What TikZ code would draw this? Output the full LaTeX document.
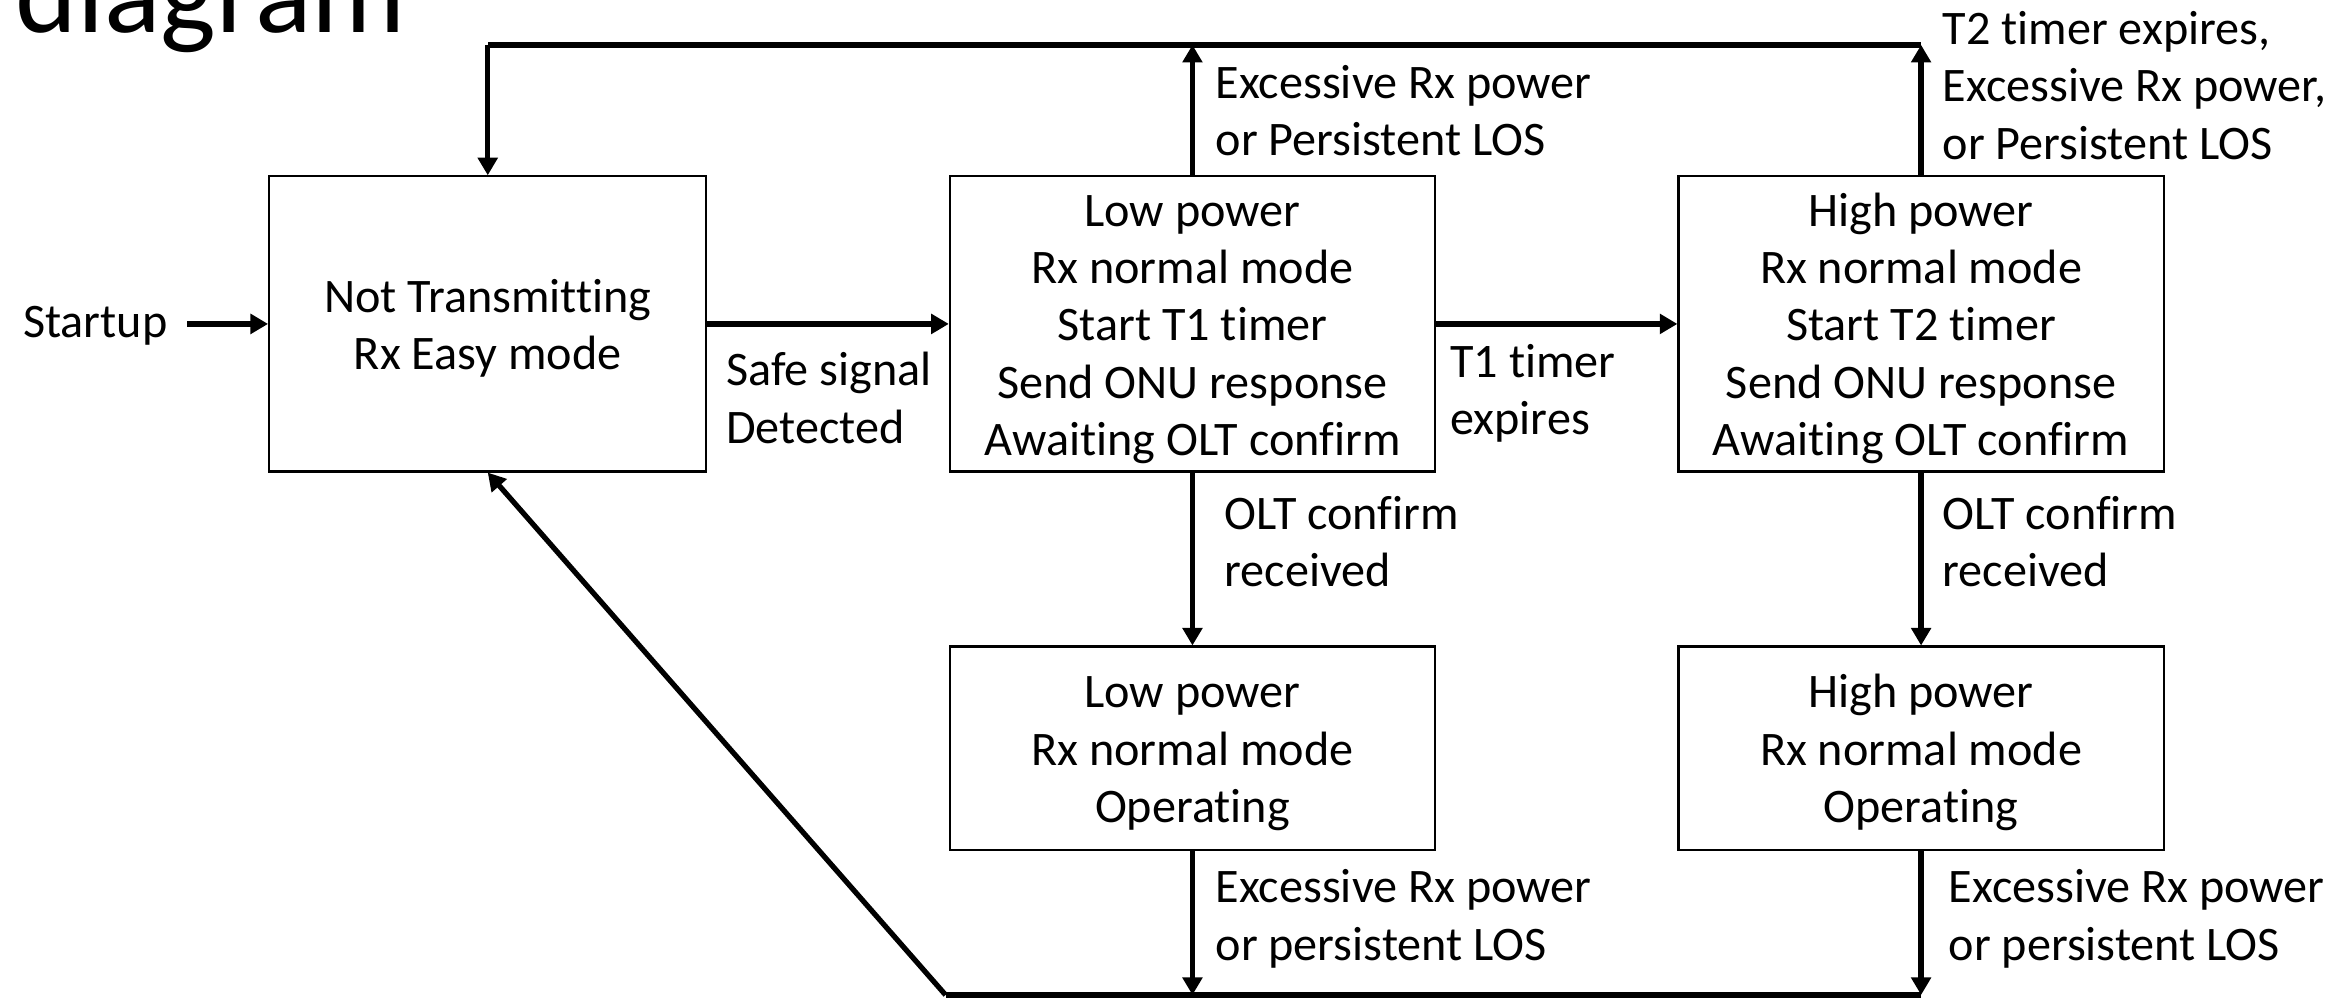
\documentclass[tikz,border=0pt]{standalone}
\usepackage{fontspec}
\setmainfont[Ligatures=CommonOff]{Carlito}
\usepackage{tikz}
\usetikzlibrary{arrows.meta, positioning}

% a little extra room above the first line of a state
\newcommand{\boxlift}{\rule{0pt}{12pt}}

\begin{document}
\begin{tikzpicture}[x=0.01496cm, y=-0.01496cm,
    font=\fontsize{13.7}{16.3}\selectfont,
    statebox/.style={draw, line width=0.6pt, align=center, inner sep=0pt},
    wide/.style={statebox, minimum width=4.85cm},
    cond/.style={align=left, anchor=west, inner sep=0pt},
    arr/.style={line width=1.5pt, -{Triangle[length=5pt, width=5.5pt]}},
    loopline/.style={line width=1.7pt}]
    \useasboundingbox (0,0) rectangle (1568,671);
    \clip (0,0) rectangle (1568,671);

    % Title (cut off at the top)
    \node[anchor=base west, inner sep=0pt, font=\fontsize{33.5}{40}\selectfont] (title) at (10,22) {diagram};

    % States
    \node[statebox, minimum width=4.37cm, minimum height=2.95cm] (idle) at (326,216.5) {\boxlift Not Transmitting\\Rx Easy mode};
    \node[wide, minimum height=2.95cm] (lowwait) at (797,216.5) {\boxlift Low power\\Rx normal mode\\Start T1 timer\\Send ONU response\\Awaiting OLT confirm};
    \node[wide, minimum height=2.95cm] (highwait) at (1284,216.5) {\boxlift High power\\Rx normal mode\\Start T2 timer\\Send ONU response\\Awaiting OLT confirm};
    \node[wide, minimum height=2.03cm] (lowop) at (797,500) {\boxlift Low power\\Rx normal mode\\Operating};
    \node[wide, minimum height=2.03cm] (highop) at (1284,500) {\boxlift High power\\Rx normal mode\\Operating};

    % Startup
    \node[anchor=west, inner sep=0pt] (startup) at (15,218) {Startup};
    \coordinate (startend) at (125,216.5);
    \draw[arr] (startend) -- (idle);

    % Forward transitions
    \draw[arr] (idle) -- (lowwait);
    \node[cond] (safe) at (485,266) {Safe signal\\Detected};
    \draw[arr] (lowwait) -- (highwait);
    \node[cond] (tone) at (969,263) {T1 timer\\expires};
    \draw[arr] (lowwait) -- (lowop);
    \node[cond] (lowconf) at (818,362) {OLT confirm\\received};
    \draw[arr] (highwait) -- (highop);
    \node[cond] (highconf) at (1298,362) {OLT confirm\\received};

    % Back to idle over the top
    \coordinate (top) at (326,30);
    \draw[arr] (lowwait.north) -- (lowwait.north |- top);
    \draw[arr] (highwait.north) -- (highwait.north |- top);
    \draw[loopline] (highwait.north |- top) -- (top);
    \draw[arr] (top) -- (idle.north);
    \node[cond] (lowfail) at (812,74) {Excessive Rx power\\or Persistent LOS};
    \node[cond] (highfail) at (1298,57) {T2 timer expires,\\Excessive Rx power,\\or Persistent LOS};

    % Back to idle from operating
    \coordinate (bottom) at (632,665);
    \draw[arr] (lowop.south) -- (lowop.south |- bottom);
    \draw[arr] (highop.south) -- (highop.south |- bottom);
    \draw[loopline] (highop.south |- bottom) -- (bottom);
    \draw[arr] (bottom) -- (idle.south);
    \node[cond] (lowlos) at (812,614) {Excessive Rx power\\or persistent LOS};
    \node[cond] (highlos) at (1302,614) {Excessive Rx power\\or persistent LOS};
\end{tikzpicture}
\end{document}
